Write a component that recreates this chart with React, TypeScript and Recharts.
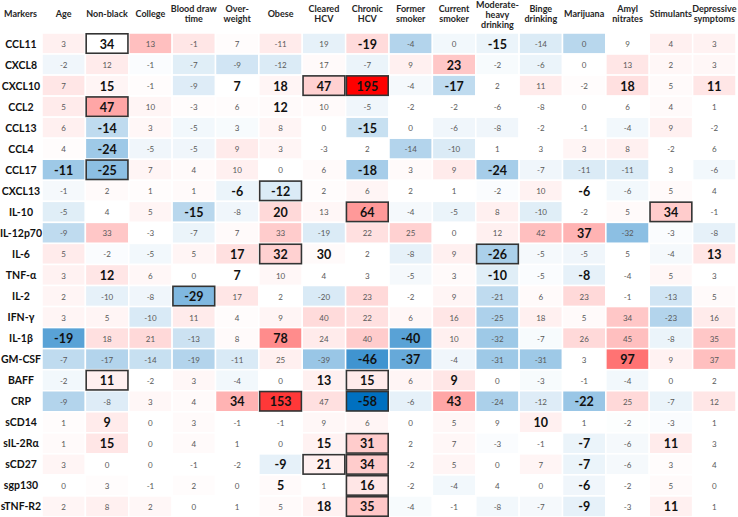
import React from "react";
import { ScatterChart, Scatter, XAxis, YAxis } from "recharts";

const markers = [
  "CCL11", "CXCL8", "CXCL10", "CCL2", "CCL13", "CCL4", "CCL17", "CXCL13",
  "IL-10", "IL-12p70", "IL-6", "TNF-α", "IL-2", "IFN-γ", "IL-1β", "GM-CSF",
  "BAFF", "CRP", "sCD14", "sIL-2Rα", "sCD27", "sgp130", "sTNF-R2",
];

const covariates = [
  "Age", "Non-black", "College", "Blood draw\ntime", "Over-\nweight", "Obese",
  "Cleared\nHCV", "Chronic\nHCV", "Former\nsmoker", "Current\nsmoker",
  "Moderate-\nheavy\ndrinking", "Binge\ndrinking", "Marijuana", "Amyl\nnitrates",
  "Stimulants", "Depressive\nsymptoms",
];

// percent difference per marker (row) and covariate (column)
const values = [
  [3, 34, 13, -1, 7, -11, 19, -19, -4, 0, -15, -14, 0, 9, 4, 3],
  [-2, 12, -1, -7, -9, -12, 17, -7, 9, 23, -2, -6, 0, 13, 2, 3],
  [7, 15, -1, -9, 7, 18, 47, 195, -4, -17, 2, 11, -2, 18, 5, 11],
  [5, 47, 10, -3, 6, 12, 10, -5, -2, -2, -6, -8, 0, 6, 4, 1],
  [6, -14, 3, -5, 3, 8, 0, -15, 0, -6, -8, -2, -1, -4, 9, -2],
  [4, -24, -5, -5, 9, 3, -3, 2, -14, -10, 1, 3, 3, 8, -2, 6],
  [-11, -25, 7, 4, 10, 0, 6, -18, 3, 9, -24, -7, -11, -11, 3, -6],
  [-1, 2, 1, 1, -6, -12, 2, 6, 2, 1, -2, 10, -6, -6, 5, 4],
  [-5, 4, 5, -15, -8, 20, 13, 64, -4, -5, 8, -10, -2, 5, 34, -1],
  [-9, 33, -3, -7, 7, 33, -19, 22, 25, 0, 12, 42, 37, -32, -3, -8],
  [5, -2, -5, 5, 17, 32, 30, 2, -8, 9, -26, -5, -5, 5, -4, 13],
  [3, 12, 6, 0, 7, 10, 4, 3, -5, 3, -10, -5, -8, -4, 5, 3],
  [2, -10, -8, -29, 17, 2, -20, 23, -2, 9, -21, 6, 23, -1, -13, 5],
  [3, 5, -10, 11, 4, 9, 40, 22, 6, 16, -25, 18, 5, 34, -23, 16],
  [-19, 18, 21, -13, 8, 78, 24, 40, -40, 10, -32, -7, 26, 45, -8, 35],
  [-7, -17, -14, -19, -11, 25, -39, -46, -37, -4, -31, -31, 3, 97, 9, 37],
  [-2, 11, -2, 3, -4, 0, 13, 15, 6, 9, 0, -3, -1, -4, 0, 2],
  [-9, -8, 3, 4, 34, 153, 47, -58, -6, 43, -24, -12, -22, 25, -7, 12],
  [1, 9, 0, 3, -1, -1, 9, 6, 0, 5, 9, 10, 1, -2, -3, 1],
  [1, 15, 0, 4, 1, 0, 15, 31, 2, 7, -3, -1, -7, -6, 11, 3],
  [3, 0, 0, -1, -2, -9, 21, 34, -2, 5, 0, 7, -7, -6, 3, 4],
  [0, 3, -1, 2, 0, 5, 1, 16, -2, -4, 4, 0, -6, -2, 5, 0],
  [2, 8, 2, 0, 1, 5, 18, 35, -4, -1, -8, -7, -9, -3, 11, 1],
];

// colour-scale measure (-100 = darkest blue, 100 = full red)
const shades = [
  [6, 0, 25, 10, 1, 8, -10, 14, -30, -5, -8, -14, -28, 0, 6, 5],
  [-6, 8, -2, -12, -18, -14, 2, -8, 6, 22, -3, -8, 0, 10, 3, 3],
  [10, 4, 1, -13, 0, 4, 18, 100, -4, -25, 0, 8, 1, 12, 2, 10],
  [8, 35, 4, 1, 1, 2, 2, -6, 0, 0, 0, 0, 0, 0, 2, 0],
  [6, -25, 3, -5, -3, 4, 0, -22, 0, -6, -6, 0, 0, -5, 6, 0],
  [1, -38, -6, -6, 8, 4, 0, 0, -30, -14, 0, 0, 4, 6, 0, 0],
  [-38, -45, 4, 2, 6, 0, 2, -35, 2, 8, -35, -6, -14, -14, 0, -5],
  [-4, 2, 1, 2, -8, -14, 1, 4, 0, 0, -2, 5, 0, -5, 2, 0],
  [-12, 0, 4, -28, -6, 15, 3, 40, -4, -8, 6, -12, 0, 2, 20, 0],
  [-25, 22, 0, -8, 2, 20, -14, 12, 18, 0, 6, 25, 30, -45, -2, -10],
  [8, -2, -5, 4, 12, 18, 2, 0, -10, 6, -33, -4, -6, 0, -4, 10],
  [5, 10, 3, 0, 0, 3, 0, 0, -4, 2, -12, -2, -10, 0, 3, 0],
  [4, -10, -6, -50, 10, 0, -15, 15, 0, 4, -25, 2, 15, 0, -18, 2],
  [4, 4, -15, 8, 1, 4, 14, 12, 3, 10, -32, 6, 2, 22, -30, 8],
  [-65, 12, 15, -20, 2, 45, 8, 20, -65, 6, -38, -3, 15, 25, -8, 22],
  [-25, -30, -22, -30, -15, 6, -40, -75, -60, -6, -38, -38, 0, 55, 5, 25],
  [-5, 6, 0, 3, -5, 0, 6, 8, 4, 10, 0, -3, 0, -5, 0, 0],
  [-30, -13, 3, 2, 30, 78, 12, -100, -10, 35, -33, -13, -40, 15, -8, 10],
  [1, 8, 0, 2, 0, 0, 3, 4, 0, 3, 0, 6, 0, -1, -2, 0],
  [2, 10, 0, 2, 0, 0, 5, 20, 0, 3, -2, 0, -8, -4, 8, 0],
  [4, 0, 0, 0, 0, -10, 6, 20, 0, 4, 0, 4, -8, -4, 1, 0],
  [0, 1, 0, 1, 0, 2, 0, 10, 0, -5, 0, 0, -6, 0, 2, 0],
  [4, 6, 3, 0, 0, 2, 5, 22, -3, 0, -5, -4, -10, 0, 6, 0],
];

// 0 = not significant, 1 = significant (bold), 2 = significant and boxed
const flags = [
  [0, 2, 0, 0, 0, 0, 0, 1, 0, 0, 1, 0, 0, 0, 0, 0],
  [0, 0, 0, 0, 0, 0, 0, 0, 0, 1, 0, 0, 0, 0, 0, 0],
  [0, 1, 0, 0, 1, 1, 2, 2, 0, 1, 0, 0, 0, 1, 0, 1],
  [0, 2, 0, 0, 0, 1, 0, 0, 0, 0, 0, 0, 0, 0, 0, 0],
  [0, 1, 0, 0, 0, 0, 0, 1, 0, 0, 0, 0, 0, 0, 0, 0],
  [0, 1, 0, 0, 0, 0, 0, 0, 0, 0, 0, 0, 0, 0, 0, 0],
  [1, 2, 0, 0, 0, 0, 0, 1, 0, 0, 1, 0, 0, 0, 0, 0],
  [0, 0, 0, 0, 1, 2, 0, 0, 0, 0, 0, 0, 1, 0, 0, 0],
  [0, 0, 0, 1, 0, 1, 0, 2, 0, 0, 0, 0, 0, 0, 2, 0],
  [0, 0, 0, 0, 0, 0, 0, 0, 0, 0, 0, 0, 1, 0, 0, 0],
  [0, 0, 0, 0, 1, 2, 1, 0, 0, 0, 2, 0, 0, 0, 0, 1],
  [0, 1, 0, 0, 1, 0, 0, 0, 0, 0, 1, 0, 1, 0, 0, 0],
  [0, 0, 0, 2, 0, 0, 0, 0, 0, 0, 0, 0, 0, 0, 0, 0],
  [0, 0, 0, 0, 0, 0, 0, 0, 0, 0, 0, 0, 0, 0, 0, 0],
  [1, 0, 0, 0, 0, 1, 0, 0, 1, 0, 0, 0, 0, 0, 0, 0],
  [0, 0, 0, 0, 0, 0, 0, 1, 1, 0, 0, 0, 0, 1, 0, 0],
  [0, 2, 0, 0, 0, 0, 1, 2, 0, 1, 0, 0, 0, 0, 0, 0],
  [0, 0, 0, 0, 1, 2, 0, 2, 0, 1, 0, 0, 1, 0, 0, 0],
  [0, 1, 0, 0, 0, 0, 0, 0, 0, 0, 0, 1, 0, 0, 0, 0],
  [0, 1, 0, 0, 0, 0, 1, 2, 0, 0, 0, 0, 1, 0, 1, 0],
  [0, 0, 0, 0, 0, 1, 2, 2, 0, 0, 0, 0, 1, 0, 0, 0],
  [0, 0, 0, 0, 0, 1, 0, 2, 0, 0, 0, 0, 1, 0, 0, 0],
  [0, 0, 0, 0, 0, 0, 1, 2, 0, 0, 0, 0, 1, 0, 1, 0],
];

const W = 738;
const H = 517;
const LEFT = 42;
const TOP = 33;
const RIGHT = 2;
const CELL_W = (W - LEFT - RIGHT) / covariates.length;
const CELL_H = (H - TOP) / markers.length;
const FONT = "Lato, 'Open Sans', sans-serif";

const shadeColor = (s: number) => {
  const t = Math.max(-1, Math.min(1, s / 100));
  if (t >= 0) {
    const g = Math.round(255 - 255 * t);
    return `rgb(255,${g},${g})`;
  }
  const a = -t;
  return `rgb(${Math.round(255 - 255 * a)},${Math.round(255 - 143 * a)},${Math.round(255 - 63 * a)})`;
};

const cells = markers.flatMap((m, r) =>
  covariates.map((c, k) => ({
    x: k,
    y: r,
    value: values[r][k],
    shade: shades[r][k],
    flag: flags[r][k],
  }))
);
const boxed = cells.filter((d) => d.flag === 2);

const CellShape = (props: any) => {
  const { cx, cy, payload } = props;
  const bold = payload.flag > 0;
  return (
    <g>
      <rect
        x={cx - CELL_W / 2}
        y={cy - CELL_H / 2}
        width={CELL_W}
        height={CELL_H}
        fill={shadeColor(payload.shade)}
        stroke="#fff"
        strokeWidth={1.5}
      />
      <text
        x={cx}
        y={cy + 0.5}
        textAnchor="middle"
        dominantBaseline="central"
        fontFamily={FONT}
        fontSize={bold ? 12.5 : 8}
        fontWeight={bold ? 700 : 400}
        fill={bold ? "#111" : "#595959"}
      >
        {payload.value}
      </text>
    </g>
  );
};

const BoxShape = (props: any) => {
  const { cx, cy } = props;
  return (
    <rect
      x={cx - CELL_W / 2 + 0.8}
      y={cy - CELL_H / 2 + 0.8}
      width={CELL_W - 1.6}
      height={CELL_H - 1.6}
      fill="none"
      stroke="#333"
      strokeWidth={1.6}
    />
  );
};

const HeaderTick = (props: any) => {
  const { x, payload } = props;
  const lines = covariates[payload.value].split("\n");
  const lh = 10;
  const center = 13.5 + (lines.length - 1) * 0.5;
  const first = center - ((lines.length - 1) * lh) / 2 + 3.2;
  return (
    <text textAnchor="middle" fontFamily={FONT} fontSize={9} fontWeight={700} fill="#262626">
      {lines.map((l, i) => (
        <tspan key={i} x={x} y={first + i * lh}>
          {l}
        </tspan>
      ))}
    </text>
  );
};

const RowTick = (props: any) => {
  const { y, payload } = props;
  return (
    <text
      x={LEFT / 2}
      y={y}
      textAnchor="middle"
      dominantBaseline="central"
      fontFamily={FONT}
      fontSize={10.5}
      fontWeight={700}
      fill="#111"
    >
      {markers[payload.value]}
    </text>
  );
};

const MarkersLabel = () => (
  <text x={4} y={16.5} fontFamily={FONT} fontSize={9} fontWeight={700} fill="#262626">
    Markers
  </text>
);

export default function App() {
  return (
    <div style={{ position: "absolute", left: 0, top: 0, background: "#fff" }}>
      <ScatterChart width={W} height={H} margin={{ top: 0, right: RIGHT, bottom: 0, left: 0 }}>
        <XAxis
          type="number"
          dataKey="x"
          orientation="top"
          domain={[-0.5, covariates.length - 0.5]}
          ticks={covariates.map((_, i) => i)}
          interval={0}
          height={TOP}
          axisLine={false}
          tickLine={false}
          tick={<HeaderTick />}
        />
        <YAxis
          type="number"
          dataKey="y"
          reversed
          domain={[-0.5, markers.length - 0.5]}
          ticks={markers.map((_, i) => i)}
          interval={0}
          width={LEFT}
          axisLine={false}
          tickLine={false}
          tick={<RowTick />}
          label={<MarkersLabel />}
        />
        <Scatter data={cells} shape={CellShape} isAnimationActive={false} />
        <Scatter data={boxed} shape={BoxShape} isAnimationActive={false} />
      </ScatterChart>
    </div>
  );
}
